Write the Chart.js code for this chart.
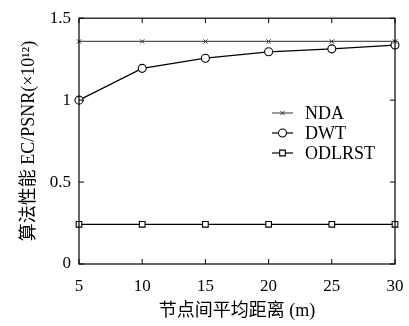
<!DOCTYPE html>
<html>
<head>
<meta charset="utf-8">
<script src="https://cdn.jsdelivr.net/npm/chart.js@4/dist/chart.umd.min.js"></script>
<style>
  html, body { margin: 0; padding: 0; background: #fff; }
  #wrap { width: 409px; height: 326px; }
</style>
</head>
<body>
<div id="wrap"><canvas id="chart" width="409" height="326"></canvas></div>
<script>
const distances = [5, 10, 15, 20, 25, 30];
const ndaValues = [1.358, 1.358, 1.358, 1.358, 1.358, 1.358];
const dwtValues = [1.0, 1.194, 1.256, 1.295, 1.313, 1.336];
const odlrstValues = [0.242, 0.242, 0.242, 0.242, 0.242, 0.242];
const seriesNames = ['NDA', 'DWT', 'ODLRST'];
const yTicks = [0, 0.5, 1, 1.5];
const xTitle = '节点间平均距离 (m)';
const yTitle = '算法性能 EC/PSNR(×10¹²)';

const serif = '"Liberation Serif", "DejaVu Serif", serif';
const mixed = '"Liberation Serif", "Noto Sans CJK SC", serif';

// box round the plot with inward ticks on all four sides
const framePlugin = {
  id: 'frame',
  afterDraw(chart) {
    const { ctx, chartArea: a, scales } = chart;
    ctx.save();
    ctx.strokeStyle = '#000';
    ctx.lineWidth = 1.2;
    ctx.strokeRect(a.left, a.top, a.right - a.left, a.bottom - a.top);
    ctx.lineWidth = 1;
    ctx.beginPath();
    distances.forEach(v => {
      const x = scales.x.getPixelForValue(v);
      ctx.moveTo(x, a.bottom); ctx.lineTo(x, a.bottom - 5);
      ctx.moveTo(x, a.top); ctx.lineTo(x, a.top + 5);
    });
    yTicks.forEach(v => {
      const y = scales.y.getPixelForValue(v);
      ctx.moveTo(a.left, y); ctx.lineTo(a.left + 5, y);
      ctx.moveTo(a.right, y); ctx.lineTo(a.right - 5, y);
    });
    ctx.stroke();

    // legend inside the plot
    const lx = 272, ly = 113, gap = 20;
    chart.data.datasets.forEach((ds, i) => {
      const y = ly + i * gap;
      ctx.strokeStyle = ds.borderColor;
      ctx.lineWidth = 1.2;
      ctx.beginPath();
      ctx.moveTo(lx, y); ctx.lineTo(lx + 21, y);
      ctx.stroke();
      ctx.fillStyle = '#fff';
      ctx.strokeStyle = ds.pointBorderColor;
      ctx.lineWidth = ds.pointBorderWidth;
      Chart.helpers.drawPoint(ctx, {
        pointStyle: ds.pointStyle, radius: ds.pointRadius, borderWidth: ds.pointBorderWidth
      }, lx + 10.5, y);
      ctx.fillStyle = '#000';
      ctx.font = '18px ' + serif;
      ctx.textBaseline = 'middle';
      ctx.textAlign = 'left';
      ctx.fillText(ds.label, lx + 33, y + 1);
    });
    ctx.restore();
  }
};

new Chart(document.getElementById('chart'), {
  type: 'line',
  data: {
    labels: distances,
    datasets: [
      { label: seriesNames[0], data: ndaValues, borderColor: '#555', pointBorderColor: '#333',
        pointStyle: 'crossRot', pointRadius: 3, borderWidth: 1.2, pointBorderWidth: 1 },
      { label: seriesNames[1], data: dwtValues, borderColor: '#000', pointBorderColor: '#000',
        pointStyle: 'circle', pointRadius: 4, borderWidth: 1.2, pointBorderWidth: 1.1 },
      { label: seriesNames[2], data: odlrstValues, borderColor: '#000', pointBorderColor: '#000',
        pointStyle: 'rect', pointRadius: 4, borderWidth: 1.2, pointBorderWidth: 1.1 }
    ].map(d => Object.assign(d, {
      data: d.data.map((v, i) => ({ x: distances[i], y: v })),
      backgroundColor: '#fff', pointBackgroundColor: '#fff', tension: 0, clip: false, fill: false
    }))
  },
  options: {
    responsive: false,
    animation: false,
    layout: { padding: { left: 6, right: 14, top: 16, bottom: 4 } },
    plugins: { legend: { display: false }, tooltip: { enabled: false } },
    scales: {
      x: {
        type: 'linear', min: 5, max: 30,
        afterFit(scale) { scale.height = 58; scale.paddingRight = 0; scale.paddingLeft = 0; },
        grid: { display: false, drawTicks: false },
        border: { display: false },
        ticks: { stepSize: 5, color: '#000', padding: 12, font: { family: serif, size: 17 } },
        title: { display: true, text: xTitle, color: '#000', padding: { top: 4, bottom: 0 },
          font: { family: mixed, size: 18 } }
      },
      y: {
        min: 0, max: 1.5,
        afterFit(scale) { scale.width = 73; },
        grid: { display: false, drawTicks: false },
        border: { display: false },
        ticks: { stepSize: 0.5, color: '#000', padding: 8, font: { family: serif, size: 17 },
          callback: v => String(v) },
        title: { display: true, text: yTitle, color: '#000', padding: { top: 12, bottom: 0 },
          font: { family: mixed, size: 18 } }
      }
    }
  },
  plugins: [framePlugin]
});
</script>
</body>
</html>
